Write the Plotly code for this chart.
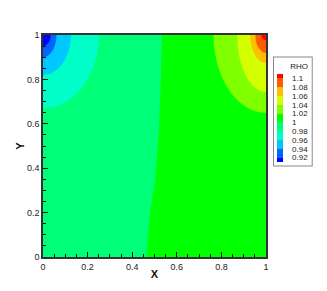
import numpy as np
import plotly.graph_objects as go

# Contour levels / legend
levels_start, levels_end, levels_step = 0.92, 1.10, 0.02
tick_vals = [1.10, 1.08, 1.06, 1.04, 1.02, 1.00, 0.98, 0.96, 0.94, 0.92]
tick_labels = ["1.1", "1.08", "1.06", "1.04", "1.02", "1", "0.98", "0.96", "0.94", "0.92"]
band_colors = ["#0000ff", "#0064ff", "#00c8ff", "#00ffc8", "#00ff78", "#00ff00",
               "#80ff00", "#d4ff00", "#ffbe00", "#ff5a00", "#ff0000"]

# Top-left (low RHO) corner: level and its reach along the top edge (rx) and left edge (ry)
tl_levels = [0.90, 0.92, 0.94, 0.96, 0.98, 1.00, 1.10]
tl_rx = [0.004, 0.035, 0.06, 0.125, 0.25, 0.45, 1.0]
tl_ry = [0.006, 0.05, 0.10, 0.18, 0.33, 0.60, 1.3]

# Top-right (high RHO) corner: level and its reach along top edge (rx) and right edge (ry)
tr_levels = [1.12, 1.10, 1.08, 1.06, 1.04, 1.02, 1.00, 0.90]
tr_rx = [0.004, 0.021, 0.048, 0.07, 0.129, 0.235, 0.45, 1.0]
tr_ry = [0.006, 0.023, 0.081, 0.126, 0.257, 0.35, 0.60, 1.3]

# RHO = 1 line crossing the domain
line_y = [0.0, 0.2, 0.35, 0.58, 0.8, 1.0]
line_x = [0.463, 0.48, 0.504, 0.52, 0.528, 0.533]

# ---- build field from the read contour geometry ----
xs = np.linspace(0, 1, 241)
ys = np.linspace(0, 1, 241)
X, Y = np.meshgrid(xs, ys)

def corner_field(dx, dy, lev, rx, ry):
    rx = np.array(rx); ry = np.array(ry); lev = np.array(lev)
    f = np.sqrt((dx[..., None] / rx) ** 2 + (dy[..., None] / ry) ** 2) + 1e-9
    g = -np.log(f)
    out = np.empty(dx.shape)
    flat_g = g.reshape(-1, len(lev))
    o = out.reshape(-1)
    for i in range(flat_g.shape[0]):
        o[i] = np.interp(0.0, flat_g[i], lev)
    return out

xb = np.interp(Y, line_y, line_x)
bg = 1.0 + 0.012 * np.tanh((X - xb) / 0.08)
tl = corner_field(X, 1 - Y, tl_levels, tl_rx, tl_ry)
tr = corner_field(1 - X, 1 - Y, tr_levels, tr_rx, tr_ry)
Z = np.maximum(np.minimum(bg, tl), tr)

n = len(band_colors)
colorscale = [[i / (n - 1), c] for i, c in enumerate(band_colors)]

fig = go.Figure(go.Contour(
    x=xs, y=ys, z=Z,
    colorscale=colorscale,
    contours=dict(start=levels_start, end=levels_end, size=levels_step, coloring="fill"),
    line=dict(width=0),
    colorbar=dict(
        title=dict(text="&nbsp;&nbsp;&nbsp;&nbsp;&nbsp;&nbsp;RHO", side="top",
                   font=dict(size=8, family="Liberation Sans", color="#222")),
        tickvals=tick_vals, ticktext=tick_labels,
        tickfont=dict(size=8, family="Liberation Sans", color="#222"),
        ticks="outside", ticklen=8, tickcolor="rgba(0,0,0,0)", outlinewidth=0,
        thickness=6, lenmode="pixels", len=108,
        x=1.035, xanchor="left", y=0.658, yanchor="middle",
        xpad=3, ypad=3,
        bordercolor="#888", borderwidth=1, bgcolor="white",
    ),
))

axis_common = dict(
    range=[0, 1], showgrid=False, zeroline=False, automargin=False,
    showline=True, linecolor="#333", linewidth=1.5, mirror=True,
    ticks="inside", ticklen=5, tickwidth=1, tickcolor="#111",
    dtick=0.2, tick0=0,
    minor=dict(ticks="inside", ticklen=3, dtick=0.05, tickcolor="#111"),
    tickfont=dict(size=9, family="Liberation Sans", color="#222"),
)

# page body adds an 8px offset, margins compensate so the frame sits at x 43-266, y 35-257
fig.update_layout(
    width=327, height=291,
    margin=dict(l=35, r=69, t=27, b=42, autoexpand=False),
    paper_bgcolor="white", plot_bgcolor="white",
    xaxis=dict(axis_common, title=dict(text="<b>X</b>", font=dict(size=11, family="Liberation Sans", color="#111"), standoff=0)),
    yaxis=dict(axis_common, title=dict(text="<b>Y</b>", font=dict(size=11, family="Liberation Sans", color="#111"), standoff=0)),
)

fig.write_html("out.html")
